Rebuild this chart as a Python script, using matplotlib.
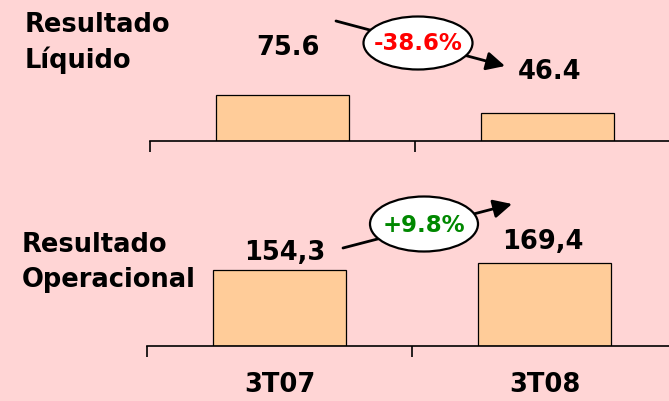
import matplotlib.pyplot as plt
from matplotlib.patches import Ellipse

periods = ['3T07', '3T08']
liquido = [75.6, 46.4]
liquido_labels = ['75.6', '46.4']
operacional = [154.3, 169.4]
operacional_labels = ['154,3', '169,4']
var_liquido = '-38.6%'
var_operacional = '+9.8%'

bg = '#FFD5D5'
bar_color = '#FFCC99'
plt.rcParams['font.family'] = 'DejaVu Sans'
plt.rcParams['font.weight'] = 'bold'

W, H = 669, 401
fig = plt.figure(figsize=(W / 100, H / 100), dpi=100, facecolor=bg)


def px_axes(left, axis_y, height, width=530):
    # axes placed in pixel units, axis line at axis_y (from top)
    return fig.add_axes([left / W, (H - axis_y) / H, width / W, height / H])


def style(ax, ymax):
    ax.set_facecolor('none')
    ax.set_xlim(-0.5, 1.5)
    ax.set_ylim(0, ymax)
    for s in ['top', 'right', 'left']:
        ax.spines[s].set_visible(False)
    ax.spines['bottom'].set_linewidth(1.2)
    ax.set_yticks([])
    ax.set_xticks([-0.5, 0.5, 1.5], ['', '', ''])
    ax.tick_params(axis='x', which='major', direction='out', length=8, width=1.2)


# top panel: Resultado Liquido
ax1 = px_axes(150, 141, 100)
ax1.bar(range(len(liquido)), liquido, width=0.5, color=bar_color,
        edgecolor='black', linewidth=0.9)
style(ax1, 100 / 0.608)
offs1 = [(6, 40), (2, 34)]
for i, (v, lab) in enumerate(zip(liquido, liquido_labels)):
    ax1.annotate(lab, (i, v), xytext=offs1[i], textcoords='offset pixels',
                 ha='center', va='baseline', fontsize=18.5)

# bottom panel: Resultado Operacional
ax2 = px_axes(147, 346, 100)
ax2.bar(range(len(operacional)), operacional, width=0.5, color=bar_color,
        edgecolor='black', linewidth=0.9)
style(ax2, 100 / 0.4925)
ax2.set_xticks(range(len(periods)), periods, minor=True)
ax2.tick_params(axis='x', which='minor', length=0, pad=19, labelsize=18.5)
offs2 = [(5, 10), (-2, 14)]
for i, (v, lab) in enumerate(zip(operacional, operacional_labels)):
    ax2.annotate(lab, (i, v), xytext=offs2[i], textcoords='offset pixels',
                 ha='center', va='baseline', fontsize=18.5)

# overlay in pixel coordinates for titles, arrows and bubbles
ov = fig.add_axes([0, 0, 1, 1])
ov.set_xlim(0, W)
ov.set_ylim(H, 0)
ov.axis('off')
ov.patch.set_alpha(0)

ov.text(25, 32, 'Resultado', fontsize=18.5, va='baseline')
ov.text(25, 68, 'Líquido', fontsize=18.5, va='baseline')
ov.text(22, 252, 'Resultado', fontsize=18.5, va='baseline')
ov.text(22, 287, 'Operacional', fontsize=18.5, va='baseline')

arrow = dict(arrowstyle='-|>', lw=2, color='black', mutation_scale=28,
             shrinkA=0, shrinkB=0)
ov.annotate('', xy=(505, 66), xytext=(336, 21), arrowprops=arrow)
ov.annotate('', xy=(512, 204), xytext=(343, 248), arrowprops=arrow)

ov.add_patch(Ellipse((418, 43), 109, 53, facecolor='white', edgecolor='black',
                     lw=1.6, zorder=3))
ov.add_patch(Ellipse((424, 224), 108, 55, facecolor='white', edgecolor='black',
                     lw=1.6, zorder=3))
ov.text(418, 44, var_liquido, color='#FF0000', fontsize=16.5, ha='center',
        va='center', zorder=4)
ov.text(424, 225, var_operacional, color='#008800', fontsize=16.5, ha='center',
        va='center', zorder=4)

fig.savefig('out.png', dpi=100, facecolor=bg)
